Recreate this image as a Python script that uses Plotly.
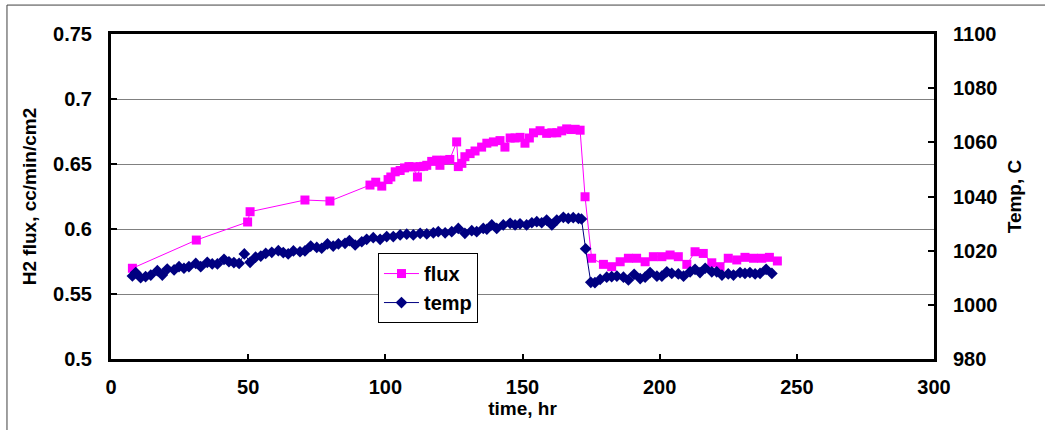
import plotly.graph_objects as go

# ---- data ----
flux_time = [7.8, 31.1, 49.8, 50.7, 70.7, 79.8, 94.4, 96.5, 98.7, 101, 102, 103.6, 105.4, 107,
             108.6, 110, 111.7, 112.7, 114, 115.1, 116.9, 118.7, 119.9, 121.8, 123.5, 126, 126.6,
             127.9, 129, 130.9, 132.7, 135.1, 137, 139.4, 141.8, 143.6, 145.5, 147.3, 149.1,
             150.9, 152.5, 154, 156.4, 158.8, 160.7, 162.5, 164.3, 166.1, 167.7, 169.2, 171,
             172.8, 175.2, 179.5, 182.5, 185.6, 188.6, 191.6, 194.7, 197.7, 200.8, 203.8, 206.8,
             209.9, 212.9, 215.9, 219, 222, 225, 228.1, 231.1, 234.2, 237.2, 240, 242.9]
flux_vals = [0.5698, 0.5915, 0.6054, 0.6133, 0.6223, 0.6215, 0.6338, 0.6360, 0.6330, 0.6380,
             0.6400, 0.6440, 0.6450, 0.6470, 0.6480, 0.6478, 0.6400, 0.6480, 0.6482, 0.6490,
             0.6520, 0.6530, 0.6490, 0.6530, 0.6535, 0.6670, 0.6480, 0.6505, 0.6556, 0.6580,
             0.6600, 0.6630, 0.6660, 0.6670, 0.6680, 0.6630, 0.6700, 0.6700, 0.6705, 0.6660,
             0.6700, 0.6740, 0.6756, 0.6736, 0.6740, 0.6740, 0.6755, 0.6770, 0.6765, 0.6767,
             0.6760, 0.6248, 0.5775, 0.5728, 0.5710, 0.5748, 0.5775, 0.5775, 0.5748, 0.5787,
             0.5787, 0.5800, 0.5787, 0.5728, 0.5825, 0.5812, 0.5740, 0.5710, 0.5775, 0.5762,
             0.5782, 0.5775, 0.5775, 0.5782, 0.5754]

temp_time = [7.8, 9, 10.8, 12.6, 14.5, 16.9, 18.7, 20.5, 23, 24.8, 26.6, 28.4, 30.9, 32.7, 35.1,
             36.9, 38.8, 41.2, 43, 44.8, 46.7, 48.6, 50.7, 52.7, 54.6, 56.4, 58.6, 61, 62.8,
             64.6, 66.5, 68.9, 70.7, 72.8, 75, 76.8, 78.9, 81, 82.9, 85.3, 86.9, 89, 91.4, 93.2,
             95.6, 98.1, 100.5, 102.9, 105.4, 107.8, 110.2, 112.7, 115.1, 117.5, 119.3, 121.8,
             124.2, 126.6, 129, 131.5, 133.3, 135.7, 137, 138.8, 140.6, 143, 145.5, 147.3, 149.1,
             151.5, 153.4, 155.2, 157, 158.8, 160.7, 162.5, 164.9, 166.7, 168.5, 170.4, 171.5,
             173, 174.9, 176.4, 178.3, 180.7, 182.5, 184.4, 186.8, 188.6, 190.7, 192.9, 194.7,
             196.5, 199, 200.8, 202.6, 204.4, 206.8, 208.7, 211.1, 212.9, 214.7, 216.6, 219,
             220.8, 222.7, 225, 226.9, 229.3, 231.1, 232.9, 234.8, 236.6, 238.8, 240.9]
temp_vals = [1010.65, 1011.9, 1010.0, 1010.4, 1011.0, 1012.6, 1011.0, 1013.2, 1012.9, 1014.1,
             1013.5, 1014.1, 1015.3, 1014.1, 1015.7, 1015.1, 1015.1, 1016.8, 1015.9, 1015.6,
             1015.3, 1018.8, 1015.7, 1017.6, 1018.0, 1019.0, 1019.4, 1020.0, 1019.3, 1018.8,
             1019.9, 1019.6, 1019.9, 1021.7, 1021.2, 1020.9, 1022.5, 1021.7, 1022.5, 1022.7,
             1023.7, 1022.1, 1023.3, 1024.2, 1024.8, 1024.2, 1025.2, 1025.2, 1025.8, 1026.1,
             1025.8, 1026.4, 1026.2, 1026.6, 1027.0, 1026.6, 1027.0, 1028.2, 1026.4, 1027.4,
             1027.0, 1028.2, 1027.9, 1029.5, 1028.2, 1029.5, 1030.1, 1029.5, 1029.9, 1029.5,
             1030.3, 1030.7, 1030.3, 1031.3, 1029.5, 1031.3, 1032.3, 1031.9, 1032.2, 1031.9,
             1031.7, 1020.7, 1008.3, 1008.2, 1009.4, 1010.2, 1010.4, 1010.6, 1010.2, 1009.2,
             1011.3, 1009.7, 1010.2, 1011.9, 1010.6, 1010.6, 1012.2, 1011.6, 1011.4, 1010.6,
             1012.2, 1013.1, 1011.9, 1013.5, 1012.2, 1012.2, 1011.0, 1011.4, 1011.0, 1011.9,
             1011.6, 1011.9, 1011.4, 1011.6, 1013.1, 1011.6]

x_ticks = [0, 50, 100, 150, 200, 250, 300]
flux_ticks = [0.5, 0.55, 0.6, 0.65, 0.7, 0.75]
flux_tick_text = ["0.5", "0.55", "0.6", "0.65", "0.7", "0.75"]
temp_ticks = [980, 1000, 1020, 1040, 1060, 1080, 1100]

FONT = "Liberation Sans, Arial, sans-serif"
TICK = 20
TITLE = 19

fig = go.Figure()
fig.add_trace(go.Scatter(
    x=flux_time, y=flux_vals, name="flux", mode="lines+markers",
    line=dict(color="#FF00FF", width=1),
    marker=dict(symbol="square", size=9, color="#FF00FF"),
    yaxis="y"))
fig.add_trace(go.Scatter(
    x=temp_time, y=temp_vals, name="temp", mode="lines+markers",
    line=dict(color="#000080", width=1),
    marker=dict(symbol="diamond", size=9, color="#000080"),
    yaxis="y2"))

fig.update_layout(
    width=1045, height=430,
    margin=dict(l=111, r=111, t=34, b=71),
    paper_bgcolor="white", plot_bgcolor="white",
    font=dict(family=FONT, color="black", size=TICK),
    xaxis=dict(
        range=[0, 300], tickvals=x_ticks, showgrid=False, zeroline=False,
        showline=True, linecolor="black", linewidth=3, mirror=True,
        ticks="inside", ticklen=5, tickwidth=2, tickcolor="black",
        tickfont=dict(family=FONT, size=TICK, weight="bold"),
        ticklabelstandoff=8,
        title=dict(text="<b>time, hr</b>", font=dict(family=FONT, size=TITLE), standoff=4),
    ),
    yaxis=dict(
        range=[0.5, 0.75], tickvals=flux_ticks, ticktext=flux_tick_text,
        showgrid=True, gridcolor="#808080", gridwidth=1, zeroline=False,
        showline=True, linecolor="black", linewidth=3, mirror=True,
        ticks="inside", ticklen=6, tickwidth=2, tickcolor="black",
        tickfont=dict(family=FONT, size=TICK, weight="bold"),
        ticklabelstandoff=12,
        title=dict(text="<b>H2 flux, cc/min/cm2</b>", font=dict(family=FONT, size=TITLE), standoff=12),
    ),
    yaxis2=dict(
        range=[980, 1100], tickvals=temp_ticks, overlaying="y", side="right",
        showgrid=False, zeroline=False,
        showline=True, linecolor="black", linewidth=3,
        ticks="inside", ticklen=6, tickwidth=2, tickcolor="black",
        tickfont=dict(family=FONT, size=TICK, weight="bold"),
        ticklabelstandoff=12,
        title=dict(text="<b>Temp, C</b>", font=dict(family=FONT, size=TITLE), standoff=12),
    ),
    legend=dict(
        x=0.3244, y=0.326, xanchor="left", yanchor="top",
        bgcolor="white", bordercolor="black", borderwidth=1,
        font=dict(family=FONT, size=TICK, weight="bold"),
        itemwidth=35, tracegroupgap=0,
    ),
    showlegend=True,
)

# outer chart-area frame (extends past the visible window on right/bottom)
fig.add_shape(type="rect", xref="paper", yref="paper",
              x0=-0.1264, x1=1.141, y0=-0.25, y1=1.089,
              line=dict(color="#404040", width=1), layer="below")

fig.write_html("out.html",
               config={"displayModeBar": False},
               post_script="document.body.style.margin='0';document.body.style.overflow='hidden';")
